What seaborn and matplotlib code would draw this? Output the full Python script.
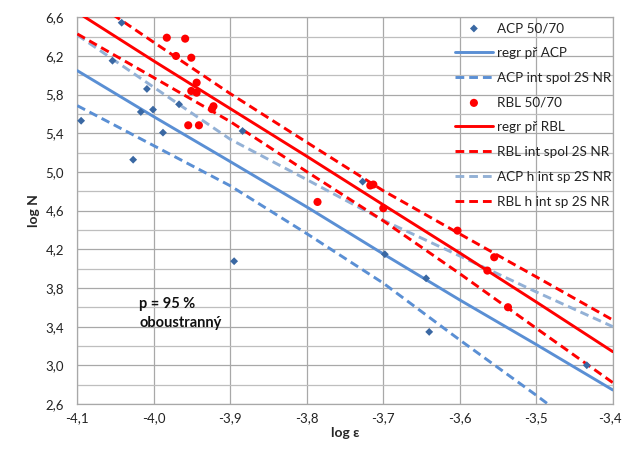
import numpy as np
import pandas as pd
import matplotlib
matplotlib.use("Agg")
import matplotlib.pyplot as plt
import matplotlib.transforms as mtransforms
import seaborn as sns

# ---- data ----
acp_x = [-4.095, -4.042, -4.054, -4.009, -4.017, -4.001, -4.027, -3.988,
         -3.967, -3.884, -3.895, -3.727, -3.698, -3.644, -3.640, -3.434]
acp_y = [5.53, 6.544, 6.151, 5.859, 5.621, 5.645, 5.127, 5.407,
         5.70, 5.424, 4.077, 4.90, 4.149, 3.90, 3.346, 3.001]

rbl_x = [-3.983, -3.959, -3.971, -3.951, -3.944, -3.951, -3.944, -3.922,
         -3.924, -3.955, -3.941, -3.786, -3.717, -3.713, -3.700, -3.603,
         -3.555, -3.564, -3.537]
rbl_y = [6.389, 6.379, 6.200, 6.182, 5.924, 5.838, 5.820, 5.680,
         5.650, 5.483, 5.483, 4.690, 4.860, 4.870, 4.625, 4.393,
         4.118, 3.980, 3.601]

# x positions at which the lines / interval curves were read
line_x = [-4.1, -4.0, -3.9, -3.8, -3.7, -3.6, -3.5, -3.4]
acp_reg = [6.048, 5.572, 5.107, 4.638, 4.152, 3.676, 3.215, 2.745]
acp_lo = [5.686, 5.272, 4.857, 4.362, 3.850, 3.262, 2.690, 2.095]
acp_hi = [6.417, 5.876, 5.338, 4.921, 4.500, 4.131, 3.759, 3.400]
rbl_reg = [6.652, 6.148, 5.655, 5.162, 4.660, 4.162, 3.655, 3.141]
rbl_lo = [6.428, 5.976, 5.521, 5.003, 4.495, 3.948, 3.383, 2.821]
rbl_hi = [6.878, 6.341, 5.810, 5.307, 4.806, 4.359, 3.915, 3.469]

x_ticks = [-4.1, -4.0, -3.9, -3.8, -3.7, -3.6, -3.5, -3.4]
y_ticks = [2.6, 3.0, 3.4, 3.8, 4.2, 4.6, 5.0, 5.4, 5.8, 6.2, 6.6]
y_minor = [2.8, 3.2, 3.6, 4.0, 4.4, 4.8, 5.2, 5.6, 6.0, 6.4]

# ---- style ----
sns.set_style("white")
plt.rcParams['font.family'] = ['Lato', 'DejaVu Sans']

fig = plt.figure(figsize=(6.22, 4.54), dpi=100)
ax = fig.add_axes([77.3 / 622, 1 - 404 / 454, (612.8 - 77.3) / 622, (404 - 17.3) / 454])

C_PT = "#3A68A3"
C_BLUE = "#5A8FD4"
C_LBLUE = "#93B1D6"
C_RED = "#FF0000"
LW = 2.1
DASH = (0, (3.0, 1.7))

df_line = pd.DataFrame({"x": line_x, "acp_reg": acp_reg, "acp_lo": acp_lo,
                        "acp_hi": acp_hi, "rbl_reg": rbl_reg,
                        "rbl_lo": rbl_lo, "rbl_hi": rbl_hi})

sns.scatterplot(x=acp_x, y=acp_y, ax=ax, marker="D", s=16, color=C_PT,
                edgecolor="none", label="ACP 50/70", zorder=5)
sns.lineplot(data=df_line, x="x", y="acp_reg", ax=ax, color=C_BLUE, lw=LW,
             label="regr př ACP", zorder=3)
sns.lineplot(data=df_line, x="x", y="acp_lo", ax=ax, color=C_BLUE, lw=LW,
             linestyle=DASH, label="ACP int spol 2S NR", zorder=3)
sns.scatterplot(x=rbl_x, y=rbl_y, ax=ax, marker="o", s=34, color=C_RED,
                edgecolor="none", label="RBL 50/70", zorder=5)
sns.lineplot(data=df_line, x="x", y="rbl_reg", ax=ax, color=C_RED, lw=LW,
             label="regr př RBL", zorder=4)
sns.lineplot(data=df_line, x="x", y="rbl_lo", ax=ax, color=C_RED, lw=LW,
             linestyle=DASH, label="RBL int spol 2S NR", zorder=4)
sns.lineplot(data=df_line, x="x", y="acp_hi", ax=ax, color=C_LBLUE, lw=LW,
             linestyle=DASH, label="ACP h int sp 2S NR", zorder=3)
sns.lineplot(data=df_line, x="x", y="rbl_hi", ax=ax, color=C_RED, lw=LW,
             linestyle=DASH, label="RBL h int sp 2S NR", zorder=4)

ax.set_xlim(-4.1, -3.4)
ax.set_ylim(2.6, 6.6)
ax.set_xticks(x_ticks)
ax.set_yticks(y_ticks)
ax.set_yticks(y_minor, minor=True)
ax.set_xticklabels([f"{v:.1f}".replace(".", ",") for v in x_ticks])
ax.set_yticklabels([f"{v:.1f}".replace(".", ",") for v in y_ticks])
ax.tick_params(axis="both", which="both", length=0, labelsize=9.5,
               colors="#222222")
ax.tick_params(axis="x", pad=6)
ax.tick_params(axis="y", pad=9.5)
# keep the last x tick label inside the figure
last = ax.get_xticklabels()[-1]
last.set_transform(last.get_transform() +
                   mtransforms.ScaledTranslation(-3 / 100, 0, fig.dpi_scale_trans))

ax.grid(True, which="major", color="#A8A8A8", lw=0.9, zorder=0)
ax.grid(True, which="minor", axis="y", color="#BEBEBE", lw=0.9, zorder=0)
ax.set_axisbelow(True)
for sp in ax.spines.values():
    sp.set_color("#A8A8A8")
    sp.set_linewidth(0.9)

ax.set_xlabel("log ε", fontsize=10, fontweight="bold", labelpad=2)
ax.set_ylabel("log N", fontsize=10, fontweight="bold", rotation=90, labelpad=4)

ax.text(-4.019, 3.54, "p = 95 %\noboustranný", fontsize=10.5,
        fontweight="bold", ha="left", va="center", linespacing=1.45,
        color="#111111")

leg = ax.legend(loc="upper right", bbox_to_anchor=(1.006, 1.0), frameon=False,
                fontsize=9.7, handlelength=2.8, handletextpad=0.3,
                labelspacing=0.95, borderaxespad=0.0, borderpad=0.35,
                markerscale=1.0)
for t in leg.get_texts():
    t.set_color("#222222")

fig.savefig("out.png", dpi=100)
